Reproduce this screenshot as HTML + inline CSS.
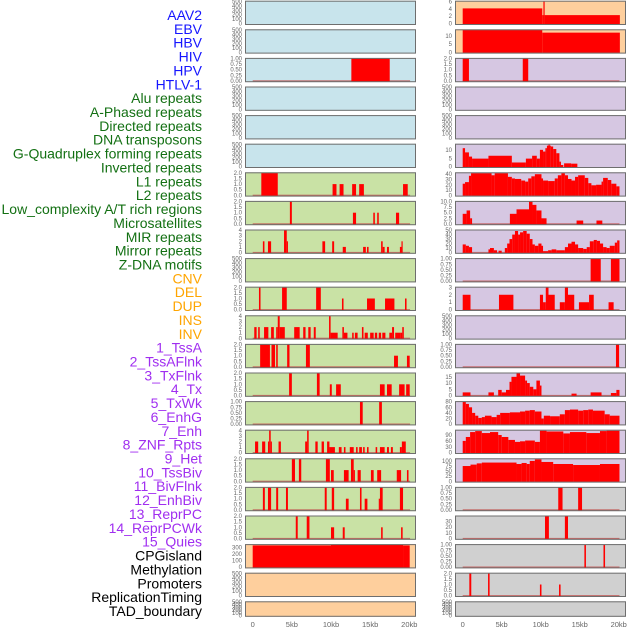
<!DOCTYPE html>
<html><head><meta charset="utf-8"><title>Feature tracks</title>
<style>
html,body{margin:0;padding:0;background:#fff;}
body{width:630px;height:630px;overflow:hidden;font-family:"Liberation Sans",sans-serif;}
svg{display:block}
</style></head>
<body>
<svg id="chart" width="630" height="630" viewBox="0 0 630 630" xmlns="http://www.w3.org/2000/svg"></svg>
<script>
// ---------- labels ----------
const featureLabels = ["AAV2","EBV","HBV","HIV","HPV","HTLV-1","Alu repeats","A-Phased repeats","Directed repeats","DNA transposons","G-Quadruplex forming repeats","Inverted repeats","L1 repeats","L2 repeats","Low_complexity A/T rich regions","Microsatellites","MIR repeats","Mirror repeats","Z-DNA motifs","CNV","DEL","DUP","INS","INV","1_TssA","2_TssAFlnk","3_TxFlnk","4_Tx","5_TxWk","6_EnhG","7_Enh","8_ZNF_Rpts","9_Het","10_TssBiv","11_BivFlnk","12_EnhBiv","13_ReprPC","14_ReprPCWk","15_Quies","CPGisland","Methylation","Promoters","ReplicationTiming","TAD_boundary"];
const labelGroups = [6,13,5,15,5];
const groupColors = ["#1515ff","#137013","#ffa500","#a02ef0","#000000"];
const xTickValues = [0,5,10,15,20];
const xTickLabels = ["0","5kb","10kb","15kb","20kb"];

// ---------- tick sets ----------
const ticks500 = [0,100,200,300,400,500];
const ticks1 = [0,0.25,0.5,0.75,1];   const lab1 = ["0.00","0.25","0.50","0.75","1.00"];
const ticks2 = [0,0.5,1,1.5,2];       const lab2 = ["0.0","0.5","1.0","1.5","2.0"];
const ticks4 = [0,1,2,3,4];

// ---------- left column data [startKb, endKb, value] ----------
const hivBars = [[12.6,17.5,1]];
const aluBars = [[1.1,3.2,2],[10.2,10.7,1],[11.1,11.6,1],[12.7,13.2,1],[13.6,14.2,1],[19.2,19.8,1]];
const aphasedBars = [[4.75,5.0,2],[12.8,13.2,1],[15.4,15.6,1],[15.9,16.1,1],[18.3,18.7,1]];
const directedBars = [[1.3,1.5,2],[1.95,2.35,2],[4.0,4.35,4],[4.35,4.5,2],[8.9,9.25,2],[10.15,10.4,2],[11.5,11.9,1],[14.1,14.45,1],[14.6,14.8,1],[16.4,16.6,2],[16.6,16.85,1],[17.15,17.4,1],[18.8,19.0,1],[19.0,19.1,2]];
const gquadBars = [[0.8,1.0,2],[3.75,4.35,2],[8.1,8.7,2],[11.4,11.6,1],[14.6,15.6,1],[16.9,18.1,1],[19.45,19.65,1]];
const invertedBars = [[0.2,0.5,2],[0.7,0.9,2],[1.45,2.0,2],[2.35,2.7,2],[3.0,3.2,2],[3.2,3.45,4],[3.45,4.1,2],[5.3,6.0,2],[6.45,6.75,2],[7.1,7.4,2],[7.8,8.05,2],[9.75,9.95,4],[9.95,10.85,1],[11.45,11.65,2],[11.65,12.1,1],[12.7,12.9,1],[13.05,13.4,1],[13.95,14.15,2],[14.3,14.7,1],[15.0,15.45,1],[15.6,15.9,1],[16.1,16.4,1],[16.55,16.95,1],[17.45,17.8,1],[17.8,18.05,2],[18.2,18.9,1],[18.9,19.1,1],[19.1,19.3,2]];
const l1Bars = [[0.95,2.2,2],[2.4,2.85,2],[3.0,3.2,2],[4.4,4.7,2],[6.8,7.3,2],[18.05,18.55,1],[19.7,20.05,1]];
const l2Bars = [[4.65,5.0,2],[8.2,8.55,2],[9.85,10.1,1],[10.65,11.25,1],[16.25,16.85,1],[17.15,17.75,1],[18.7,19.4,1],[19.6,20.05,1]];
const lowcBars = [[13.7,14.05,1],[16.15,16.5,1]];
const microBars = [[0.3,0.7,2],[1.2,1.6,2],[1.95,2.1,2],[2.1,2.3,4],[2.3,2.45,2],[3.3,3.6,2],[6.7,6.95,2],[6.95,7.15,4],[8.0,8.3,2],[8.8,9.1,2],[9.5,9.8,2],[9.8,10.5,1],[11.0,11.35,1],[11.65,11.85,1],[12.4,12.9,1],[13.2,13.4,1],[13.6,13.95,1],[14.1,14.3,1],[14.6,14.8,1],[15.7,15.9,1],[16.25,16.85,1],[17.15,17.4,1],[17.65,17.9,1],[18.8,19.05,1],[19.05,19.55,2]];
const mirBars = [[5.0,5.4,2],[5.9,6.2,2],[9.35,9.85,2],[10.0,10.35,1],[11.65,12.25,1],[12.55,12.9,2],[12.9,13.05,1],[13.4,13.8,1],[15.1,15.45,1],[15.9,16.4,1],[18.4,18.95,1],[19.7,19.9,1]];
const mirrorBars = [[1.3,1.55,2],[1.95,2.35,2],[3.0,3.25,2],[4.25,4.5,2],[9.2,9.45,2],[10.1,10.4,2],[11.9,12.25,1],[13.7,13.9,2],[14.3,14.65,1],[16.1,16.25,1],[16.25,16.6,2],[18.8,19.2,2]];
const zdnaBars = [[5.5,5.75,2],[6.9,7.25,2],[10.0,10.4,1],[11.5,11.75,1],[16.4,16.6,1],[18.95,19.15,1]];
const cnvBars = [[0,10.0,334],[10.0,19.2,345],[19.2,20.05,334]];

// ---------- right column data ----------
const insBars = [[0,10.2,4.1],[10.2,10.35,2.3],[10.35,10.5,6],[10.5,20.15,2.3]];
const invBars = [[0,10.2,13.9],[10.2,20.15,12.2]];
const tssaBars = [[0,0.8,2],[7.7,8.4,2]];
const txBars = [[0,0.3,11],[0.3,0.8,8.5],[0.8,1.2,6],[1.2,3.3,4.8],[3.3,6.3,6.5],[6.3,8.1,2.5],[8.1,8.9,4.8],[8.9,9.5,6.5],[9.5,9.9,4.8],[9.9,10.3,10],[10.3,10.6,9],[10.6,10.8,11],[10.8,11.0,12.5],[11.0,11.1,13.3],[11.1,11.3,12.5],[11.3,11.6,12],[11.6,12.0,10.5],[12.0,12.4,8],[12.4,12.6,3],[12.6,12.9,1],[13.0,13.9,2],[13.9,14.7,1.8]];
const txwkBars = [[0,0.3,22],[0.3,0.8,25],[0.8,1.07,37],[1.07,3.7,42],[3.7,4.1,38],[4.1,5.8,42],[5.8,6.3,35],[6.3,6.7,32],[6.7,7.5,31],[7.5,8.0,28],[8.0,8.4,26],[8.4,8.8,32],[8.8,9.25,36],[9.25,10.1,40],[10.1,10.3,32],[10.3,10.95,28],[10.95,11.8,27],[11.8,12.2,32],[12.2,12.65,38],[12.65,13.1,42],[13.1,13.5,38],[13.5,13.95,31],[13.95,14.4,28],[14.4,14.8,35],[14.8,15.65,38],[15.65,16.1,33],[16.1,16.5,23],[16.5,17.1,19],[17.1,17.8,20],[17.8,18.0,26],[18.0,18.6,33],[18.6,19.05,29],[19.05,19.7,22],[19.7,20.1,17]];
const enhgBars = [[0,0.5,4.5],[0.5,0.95,6],[0.95,1.2,2.5],[6.05,6.9,4.5],[6.9,8.5,6.5],[8.5,8.95,10],[8.95,9.45,8.5],[9.45,10.1,6],[10.1,10.75,2.5],[14.6,15.45,1.5],[17.15,17.9,1.5]];
const enhBars = [[0,0.4,18],[0.4,0.8,15],[0.8,1.2,12],[3.3,3.5,7],[3.5,4.0,10],[4.0,4.4,5],[4.6,5.0,4],[5.4,5.7,10],[5.7,6.0,20],[6.0,6.35,30],[6.35,6.7,40],[6.7,7.1,48],[7.1,7.35,40],[7.35,7.75,45],[7.75,8.2,48],[8.2,8.6,42],[8.6,8.95,30],[8.95,9.25,18],[9.25,9.7,15],[9.7,10.1,20],[10.1,10.3,15],[10.3,10.95,3],[10.95,11.4,5],[11.4,12.0,7],[12.0,13.1,5],[13.1,13.5,12],[13.5,13.95,20],[13.95,14.4,24],[14.4,14.8,18],[14.8,15.45,10],[15.45,15.9,8],[15.9,16.3,12],[16.3,16.8,25],[16.8,17.2,28],[17.2,17.6,26],[17.6,18.0,20],[18.0,18.45,12],[18.45,18.85,10],[18.85,19.5,15],[19.5,19.8,22],[19.8,20.1,27]];
const znfBars = [[16.4,17.7,1],[19.0,20.1,1]];
const hetBars = [[0,1.0,2],[4.65,6.5,2],[9.9,10.3,2],[10.3,10.65,1],[10.65,11.0,3],[11.0,11.8,2],[12.45,13.1,1],[13.1,13.5,3],[13.5,14.3,2],[14.9,16.2,1],[16.2,16.8,2],[18.7,19.35,1]];
const bivflnkBars = [[19.65,20.05,1]];
const enhbivBars = [[0,1.0,2.5],[3.3,4.0,2.5],[4.55,5.0,4.5],[5.0,5.55,2.5],[5.55,6.0,4.5],[6.0,6.25,11],[6.25,6.9,15],[6.9,7.35,18],[7.35,8.0,16],[8.0,8.25,12],[8.25,8.6,10],[8.6,9.05,7],[9.05,9.45,5],[9.45,9.9,12],[9.9,10.1,8],[13.95,14.6,1.5],[16.4,17.8,2.5],[19.0,19.7,2],[19.7,20.1,4.5]];
const reprpcBars = [[0,0.4,80],[0.4,0.8,72],[0.8,1.2,60],[1.2,1.6,40],[1.6,2.0,30],[2.0,2.45,22],[2.45,2.85,25],[2.85,3.7,30],[3.7,4.35,25],[4.35,4.8,33],[4.8,6.05,40],[6.05,7.35,42],[7.35,8.0,45],[8.0,8.6,48],[8.6,9.25,50],[9.25,10.1,45],[10.1,10.4,20],[10.4,11.2,30],[11.2,12.45,28],[12.45,13.1,35],[13.1,13.75,50],[13.75,14.8,52],[14.8,15.45,48],[15.45,16.1,50],[16.1,16.7,52],[16.7,18.2,48],[18.2,18.85,35],[18.85,20.1,30]];
const reprpcwkBars = [[0,0.4,60],[0.4,0.95,80],[0.95,1.6,105],[1.6,2.45,110],[2.45,3.5,100],[3.5,4.55,105],[4.55,5.0,90],[5.0,5.85,80],[5.85,6.7,65],[6.7,7.35,55],[7.35,8.0,58],[8.0,9.25,62],[9.25,9.9,55],[9.9,10.75,112],[10.75,12.9,108],[12.9,13.75,98],[13.75,15.85,105],[15.85,17.6,100],[17.6,18.45,110],[18.45,20.1,112]];
const quiesBars = [[0,1.0,75],[1.0,1.8,82],[1.8,2.45,88],[2.45,6.9,92],[6.9,7.55,85],[7.55,8.2,90],[8.2,8.6,85],[8.6,9.25,100],[9.25,10.1,108],[10.1,11.6,95],[11.6,14.15,85],[14.15,17.6,80],[17.6,20.1,85]];
const cpgBars = [[12.25,12.8,1],[14.8,15.3,1]];
const methBars = [[10.55,11.05,39],[13.1,13.5,39]];
const promBars = [[15.6,15.8,1],[18.05,18.25,1]];
const repliBars = [[0.85,1.1,2],[3.25,3.45,2],[9.9,10.1,1],[12.35,12.55,1]];
const emptyBars = [];

// ---------- panel definitions ----------
const C_BLUE="#c8e4ec", C_GREEN="#c9e2a5", C_ORANGE="#fecf9d", C_LAV="#d6c7e2", C_GREY="#d0d0d0";
const leftPanels = [
 {name:"aav2",data:emptyBars,ymax:500,ticks:ticks500,labels:null,fill:C_BLUE},
 {name:"ebv",data:emptyBars,ymax:500,ticks:ticks500,labels:null,fill:C_BLUE},
 {name:"hbv",data:hivBars,ymax:1,ticks:ticks1,labels:lab1,fill:C_BLUE,base:true},
 {name:"hiv",data:emptyBars,ymax:500,ticks:ticks500,labels:null,fill:C_BLUE},
 {name:"hpv",data:emptyBars,ymax:500,ticks:ticks500,labels:null,fill:C_BLUE},
 {name:"htlv-1",data:emptyBars,ymax:500,ticks:ticks500,labels:null,fill:C_BLUE},
 {name:"alu-repeats",data:aluBars,ymax:2,ticks:ticks2,labels:lab2,fill:C_GREEN,base:true},
 {name:"a-phased-repeats",data:aphasedBars,ymax:2,ticks:ticks2,labels:lab2,fill:C_GREEN,base:true},
 {name:"directed-repeats",data:directedBars,ymax:4,ticks:ticks4,labels:null,fill:C_GREEN,base:true},
 {name:"dna-transposons",data:emptyBars,ymax:500,ticks:ticks500,labels:null,fill:C_GREEN},
 {name:"g-quadruplex",data:gquadBars,ymax:2,ticks:ticks2,labels:lab2,fill:C_GREEN,base:true},
 {name:"inverted-repeats",data:invertedBars,ymax:4,ticks:ticks4,labels:null,fill:C_GREEN,base:true},
 {name:"l1-repeats",data:l1Bars,ymax:2,ticks:ticks2,labels:lab2,fill:C_GREEN,base:true},
 {name:"l2-repeats",data:l2Bars,ymax:2,ticks:ticks2,labels:lab2,fill:C_GREEN,base:true},
 {name:"low-complexity",data:lowcBars,ymax:1,ticks:ticks1,labels:lab1,fill:C_GREEN,base:true},
 {name:"microsatellites",data:microBars,ymax:4,ticks:ticks4,labels:null,fill:C_GREEN,base:true},
 {name:"mir-repeats",data:mirBars,ymax:2,ticks:ticks2,labels:lab2,fill:C_GREEN,base:true},
 {name:"mirror-repeats",data:mirrorBars,ymax:2,ticks:ticks2,labels:lab2,fill:C_GREEN,base:true},
 {name:"z-dna-motifs",data:zdnaBars,ymax:2,ticks:ticks2,labels:lab2,fill:C_GREEN,base:true},
 {name:"cnv",data:cnvBars,ymax:345,ticks:[0,100,200,300],labels:null,fill:C_ORANGE},
 {name:"del",data:emptyBars,ymax:500,ticks:ticks500,labels:null,fill:C_ORANGE},
 {name:"dup",data:emptyBars,ymax:500,ticks:ticks500,labels:null,fill:C_ORANGE}
];
const rightPanels = [
 {name:"ins",data:insBars,ymax:6,ticks:[0,2,4,6],labels:null,fill:C_ORANGE},
 {name:"inv",data:invBars,ymax:13.9,ticks:[0,5,10],labels:null,fill:C_ORANGE},
 {name:"tssa",data:tssaBars,ymax:2,ticks:ticks2,labels:lab2,fill:C_LAV,base:true},
 {name:"tssaflnk",data:emptyBars,ymax:500,ticks:ticks500,labels:null,fill:C_LAV},
 {name:"txflnk",data:emptyBars,ymax:500,ticks:ticks500,labels:null,fill:C_LAV},
 {name:"tx",data:txBars,ymax:13.3,ticks:[0,5,10],labels:null,fill:C_LAV},
 {name:"txwk",data:txwkBars,ymax:42.5,ticks:[0,10,20,30,40],labels:null,fill:C_LAV},
 {name:"enhg",data:enhgBars,ymax:10,ticks:[0,2.5,5,7.5,10],labels:["0.0","2.5","5.0","7.5","10.0"],fill:C_LAV,base:true},
 {name:"enh",data:enhBars,ymax:50,ticks:[0,10,20,30,40,50],labels:null,fill:C_LAV,base:true},
 {name:"znf-rpts",data:znfBars,ymax:1,ticks:ticks1,labels:lab1,fill:C_LAV,base:true},
 {name:"het",data:hetBars,ymax:3,ticks:[0,1,2,3],labels:null,fill:C_LAV,base:true},
 {name:"tssbiv",data:emptyBars,ymax:500,ticks:ticks500,labels:null,fill:C_LAV},
 {name:"bivflnk",data:bivflnkBars,ymax:1,ticks:ticks1,labels:lab1,fill:C_LAV,base:true},
 {name:"enhbiv",data:enhbivBars,ymax:18,ticks:[0,5,10,15],labels:null,fill:C_LAV,base:true},
 {name:"reprpc",data:reprpcBars,ymax:80,ticks:[0,20,40,60,80],labels:null,fill:C_LAV},
 {name:"reprpcwk",data:reprpcwkBars,ymax:114,ticks:[0,30,60,90],labels:null,fill:C_LAV},
 {name:"quies",data:quiesBars,ymax:110,ticks:[0,25,50,75,100],labels:null,fill:C_LAV},
 {name:"cpgisland",data:cpgBars,ymax:1,ticks:ticks1,labels:lab1,fill:C_GREY,base:true},
 {name:"methylation",data:methBars,ymax:39,ticks:[0,10,20,30],labels:null,fill:C_GREY,base:true},
 {name:"promoters",data:promBars,ymax:1,ticks:ticks1,labels:lab1,fill:C_GREY,base:true},
 {name:"replication-timing",data:repliBars,ymax:2,ticks:ticks2,labels:lab2,fill:C_GREY,base:true},
 {name:"tad-boundary",data:emptyBars,ymax:500,ticks:ticks500,labels:null,fill:C_GREY}
];

// ---------- drawing ----------
const NS="http://www.w3.org/2000/svg";
const svg=document.getElementById("chart");
function mk(tag,attrs,parent){const e=document.createElementNS(NS,tag);for(const k in attrs)e.setAttribute(k,attrs[k]);(parent||svg).appendChild(e);return e;}

// feature labels
let li=0;
labelGroups.forEach((n,g)=>{
  for(let j=0;j<n;j++){
    const t=mk("text",{x:202,y:15+li*13.86+5,"text-anchor":"end","font-size":"14",fill:groupColors[g],"font-family":"Liberation Sans, sans-serif"});
    t.textContent=featureLabels[li];
    
    
    li++;
  }
});

const cols=[{x0:245,x1:416,zero:252.7,pxkb:7.83,panels:leftPanels},{x0:455,x1:626,zero:462.7,pxkb:7.8,panels:rightPanels}];
function panelTop(r){return 0.7+r*28.6;}
function panelH(r){return r===21?15.5:24.3;}

cols.forEach((col,ci)=>{
  const xs=kb=>col.zero+kb*col.pxkb;
  col.panels.forEach((p,r)=>{
    const top=panelTop(r), h=panelH(r), bot=top+h;
    const g=mk("g",{});
    
    
    const bg=mk("rect",{x:col.x0,y:top,width:col.x1-col.x0,height:h,fill:p.fill},g);
    
    
    const y0=bot-1.3, y1=top+0.6;
    const ys=v=>y0-(v/p.ymax)*(y0-y1);
    if(p.base){
      const bl=mk("rect",{x:xs(0),y:y0-0.6,width:xs(20.1)-xs(0),height:1.4,fill:"#c0504d","fill-opacity":"0.8"},g);
      
      
    }
    p.data.forEach(d=>{
      const b=mk("rect",{x:xs(d[0]),y:ys(d[2]),width:Math.max(1.2,xs(d[1])-xs(d[0])),height:y0-ys(d[2])+0.6,fill:"#ff0000"},g);
      
      
    });
    const fr=mk("rect",{x:col.x0+0.5,y:top+0.5,width:col.x1-col.x0-1,height:h-1,fill:"none",stroke:"#6e6e6e","stroke-width":"1"},g);
    
    
    p.ticks.forEach((tv,ti)=>{
      const t=mk("text",{x:col.x0-3,y:ys(tv)+2,"text-anchor":"end","font-size":"6",fill:"#666"},g);
      t.textContent=p.labels?p.labels[ti]:String(tv);
      
      
    });
  });
  xTickValues.forEach((v,i)=>{
    const t=mk("text",{x:xs(v),y:627,"text-anchor":"middle","font-size":"7.5",fill:"#666"});
    t.textContent=xTickLabels[i];
    
    
  });
});
</script>
</body></html>
